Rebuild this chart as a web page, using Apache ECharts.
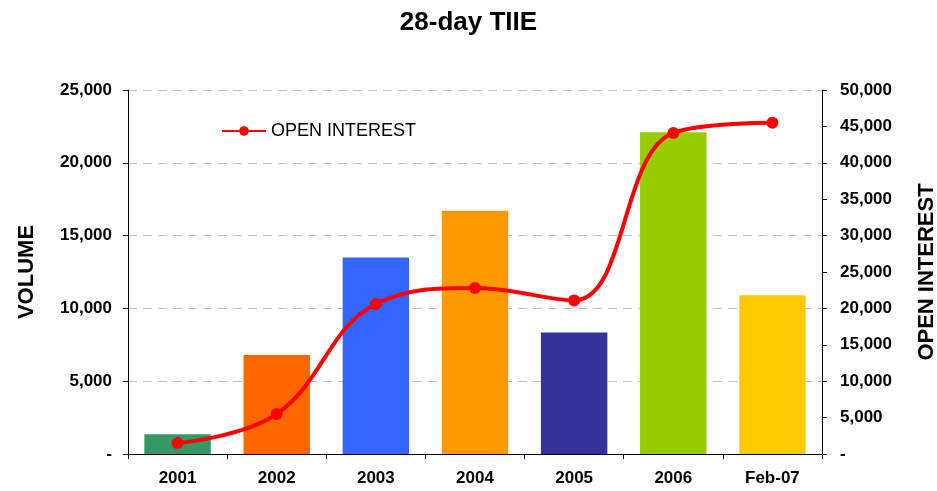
<!DOCTYPE html>
<html>
<head>
<meta charset="utf-8">
<script src="https://cdn.jsdelivr.net/npm/echarts@6/dist/echarts.min.js"></script>
<style>
  html, body { margin: 0; padding: 0; background: #fff; }
  #chart { width: 937px; height: 491px; }
</style>
</head>
<body>
<div id="chart"></div>
<script>
const categories = ['2001', '2002', '2003', '2004', '2005', '2006', 'Feb-07'];
const volume = [1350, 6800, 13500, 16700, 8350, 22100, 10900];
const openInterest = [1500, 5500, 20600, 22800, 21100, 44100, 45500];
const barColors = ['#339966', '#FF6600', '#3366FF', '#FF9900', '#333399', '#99CC00', '#FFCC00'];

const fmt = v => v === 0 ? '-' : v.toLocaleString('en-US');
const font = 'Liberation Sans, Arial';
const labelStyle = { color: '#000', fontWeight: 'bold', fontSize: 17, fontFamily: font };

const chart = echarts.init(document.getElementById('chart'));
chart.setOption({
  animation: false,
  textStyle: { fontFamily: font },
  title: {
    text: '28-day TIIE',
    left: 'center',
    top: 5,
    textStyle: { fontSize: 26, fontWeight: 'bold', color: '#000', fontFamily: font }
  },
  legend: {
    data: ['OPEN INTEREST'],
    left: 216,
    top: 117,
    itemWidth: 44,
    itemHeight: 12,
    itemGap: 4,
    textStyle: { fontSize: 18, color: '#000', fontFamily: font }
  },
  grid: { left: 128, right: 115, top: 90, bottom: 37, outerBoundsMode: 'none' },
  xAxis: {
    type: 'category',
    data: categories,
    axisLine: { lineStyle: { color: '#000' } },
    axisTick: { show: true, length: 5, lineStyle: { color: '#000' } },
    axisLabel: Object.assign({}, labelStyle, { margin: 16 })
  },
  yAxis: [
    {
      type: 'value',
      min: 0, max: 25000, interval: 5000,
      name: 'VOLUME',
      nameLocation: 'middle',
      nameGap: 90,
      nameRotate: 90,
      nameTextStyle: { fontSize: 22, fontWeight: 'bold', color: '#000', fontFamily: font },
      axisLine: { show: true, lineStyle: { color: '#000' } },
      axisTick: { show: true, length: 5, lineStyle: { color: '#000' } },
      axisLabel: Object.assign({}, labelStyle, { formatter: fmt, margin: 16 }),
      splitLine: { show: true, lineStyle: { color: '#c0c0c0', type: [9, 6] } }
    },
    {
      type: 'value',
      min: 0, max: 50000, interval: 5000,
      name: 'OPEN INTEREST',
      nameLocation: 'middle',
      nameGap: 94,
      nameRotate: 90,
      nameTextStyle: { fontSize: 22, fontWeight: 'bold', color: '#000', fontFamily: font },
      axisLine: { show: true, lineStyle: { color: '#000' } },
      axisTick: { show: true, length: 5, lineStyle: { color: '#000' } },
      axisLabel: Object.assign({}, labelStyle, { formatter: fmt, margin: 18 }),
      splitLine: { show: false }
    }
  ],
  series: [
    {
      name: 'VOLUME',
      type: 'bar',
      yAxisIndex: 0,
      barWidth: '67%',
      data: volume.map((v, i) => ({ value: v, itemStyle: { color: barColors[i] } }))
    },
    {
      name: 'OPEN INTEREST',
      type: 'line',
      yAxisIndex: 1,
      smooth: 0.4,
      symbol: 'circle',
      symbolSize: 12,
      lineStyle: { color: '#FF0000', width: 4 },
      itemStyle: { color: '#FF0000' },
      data: openInterest,
      z: 5
    }
  ]
});
</script>
</body>
</html>
